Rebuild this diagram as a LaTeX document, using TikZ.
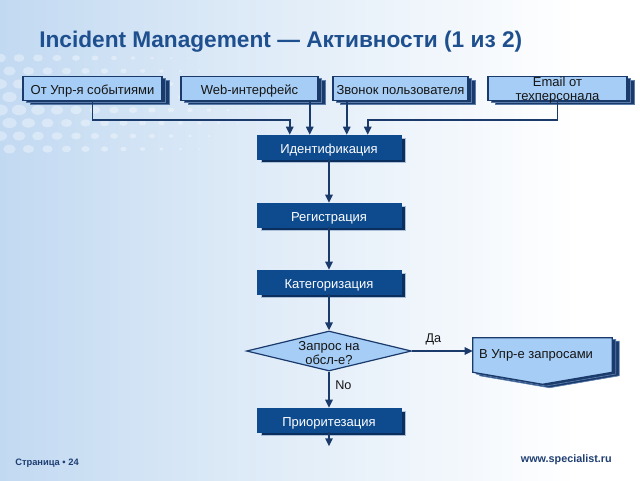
\documentclass[tikz,border=0pt]{standalone}
\usepackage{fontspec}
\setmainfont{Liberation Sans}
\setsansfont{Liberation Sans}
\usetikzlibrary{shadows,arrows.meta,calc,shapes.geometric}
\definecolor{navy}{HTML}{1A3A6C}
\definecolor{lfill}{HTML}{A6CDF5}
\definecolor{dfill}{HTML}{0E4B8E}
\definecolor{dshadow}{HTML}{0A2E5E}
\definecolor{titlec}{HTML}{1E4F8E}
\definecolor{txt}{HTML}{151515}
\definecolor{bgL}{HTML}{9DC2EA}
\definecolor{bgM}{HTML}{D8E7F6}
\definecolor{foot}{HTML}{1F3F73}
\pgfdeclarehorizontalshading{bgsh}{100bp}{color(0bp)=(bgL); color(40bp)=(bgM); color(70bp)=(white); color(100bp)=(white)}
\pgfdeclarelayer{bg}
\pgfdeclarelayer{back}
\pgfsetlayers{bg,back,main}
\begin{document}
\begin{tikzpicture}[x=0.75pt,y=-0.75pt,
  ln/.style={draw=navy, line width=1.4pt},
  arr/.style={ln, -{Triangle[length=6pt,width=5.5pt]}},
  boxfont/.style={font=\fontsize{9.75pt}{10.5pt}\selectfont},
  onel/.style={text height=11pt, text depth=2pt},
  lshadow/.style={double copy shadow={shadow xshift=2.6pt, shadow yshift=-1.3pt, fill=navy, draw=lfill!45!navy, line width=0.5pt}},
  lbox/.style={draw=navy, line width=0.9pt, fill=lfill, minimum height=24*0.75pt, inner sep=0pt, boxfont, onel, text=txt, lshadow},
  dbox/.style={fill=dfill, draw=dfill, minimum width=144*0.75pt, minimum height=24*0.75pt, inner sep=0pt, text=white, boxfont, onel,
     copy shadow={shadow xshift=3pt, shadow yshift=-2.2pt, fill=dshadow, draw=white!65!dfill, line width=0.5pt}},
  lab/.style={font=\fontsize{9.5pt}{11pt}\selectfont, text=txt, inner sep=1pt}
]
\useasboundingbox (0,0) rectangle (640,480);
\begin{pgfonlayer}{bg}
\shade[shading=bgsh] (0,0) rectangle (640,480);
\foreach \r in {0,...,7}{
  \foreach \c in {0,...,15}{
    \pgfmathsetmacro\xx{\c*19+mod(\r,2)*9.5}
    \pgfmathsetmacro\yy{58+\r*13}
    \pgfmathsetmacro\rad{6.5-0.022*\xx-0.03*abs(\yy-110)}
    \ifdim\rad pt>0.6pt
      \fill[white, opacity=0.35] (\xx,\yy) ellipse [x radius=1.2*\rad*0.75pt, y radius=0.85*\rad*0.75pt];
    \fi
  }
}
\end{pgfonlayer}

% title
\node[anchor=base west, inner sep=0pt, font=\bfseries\fontsize{17pt}{20pt}\selectfont, text=titlec] (title) at (39,47) {Incident Management — Активности (1 из 2)};

% top boxes
\node[lbox, minimum width=139*0.75pt] (b1) at (92.5,88.5) {От Упр-я событиями};
\node[lbox, minimum width=137*0.75pt] (b2) at (249.5,88.5) {Web-интерфейс};
\node[lbox, minimum width=135*0.75pt] (b3) at (400.5,88.5) {Звонок пользователя};
\node[lbox, minimum width=139*0.75pt] (b4) at (557.5,88.5) {};
\node[boxfont, text=txt, align=center, inner sep=0pt] (b4t) at ($(b4.center)+(0,1.5)$) {Email от\\техперсонала};

% main flow
\node[dbox] (ident) at (329,147) {Идентификация};
\node[dbox] (reg) at (329,215) {Регистрация};
\node[dbox] (kat) at (329,282) {Категоризация};
\node[diamond, draw=navy, fill=lfill, line width=0.9pt, minimum width=165*0.75pt, minimum height=40*0.75pt, inner sep=0pt] (dec) at (329,351) {};
\node[boxfont, text=txt, align=center, inner sep=0pt] (dect) at ($(dec.center)+(0,2)$) {Запрос на\\обсл-е?};
\node[dbox] (prio) at (329,420) {Приоритезация};

% off-page connector
\node[minimum width=139*0.75pt, minimum height=34*0.75pt, inner sep=0pt] (vupr) at (542.5,355) {};
\node[anchor=west, inner sep=0pt, boxfont, onel, text=txt] (vuprt) at ($(vupr.west)+(6,-3)$) {В Упр-е запросами};
\begin{pgfonlayer}{back}
\draw[draw=navy, line width=0.9pt, fill=lfill, lshadow] (vupr.north west) -- (vupr.north east) -- (vupr.south east) -- ($(vupr.south)+(0,12)$) -- (vupr.south west) -- cycle;
\end{pgfonlayer}

% connectors from top
\coordinate (i1) at ($(ident.north west)+(33,0)$);
\coordinate (i2) at ($(ident.north west)+(53,0)$);
\coordinate (i3) at ($(ident.north west)+(90,0)$);
\coordinate (i4) at ($(ident.north west)+(111,0)$);
\draw[arr] (b1.south) -- ++(0,19) -| (i1);
\draw[arr] (b2.south -| i2) -- (i2);
\draw[arr] (b3.south -| i3) -- (i3);
\draw[arr] (b4.south) -- ++(0,19) -| (i4);

% chain
\draw[arr] (ident.south) -- (reg.north);
\draw[arr] (reg.south) -- (kat.north);
\draw[arr] (kat.south) -- (dec.north);
\draw[arr] (dec.south) -- node[lab, pos=0.38, anchor=west, xshift=3pt] {No} (prio.north);
\draw[arr] (dec.east) -- node[lab, pos=0.35, anchor=south, yshift=3pt] {Да} (dec.east -| vupr.west);
\coordinate (pend) at ($(prio.south)+(0,14)$);
\draw[arr] (prio.south) -- (pend);

% footer
\node[anchor=base west, inner sep=0pt, font=\bfseries\fontsize{7pt}{8pt}\selectfont, text=foot] (pg) at (15,465) {Страница • 24};
\node[anchor=base east, inner sep=0pt, font=\bfseries\fontsize{8.1pt}{9pt}\selectfont, text=foot] (url) at (612,462) {www.specialist.ru};
\end{tikzpicture}
\end{document}
